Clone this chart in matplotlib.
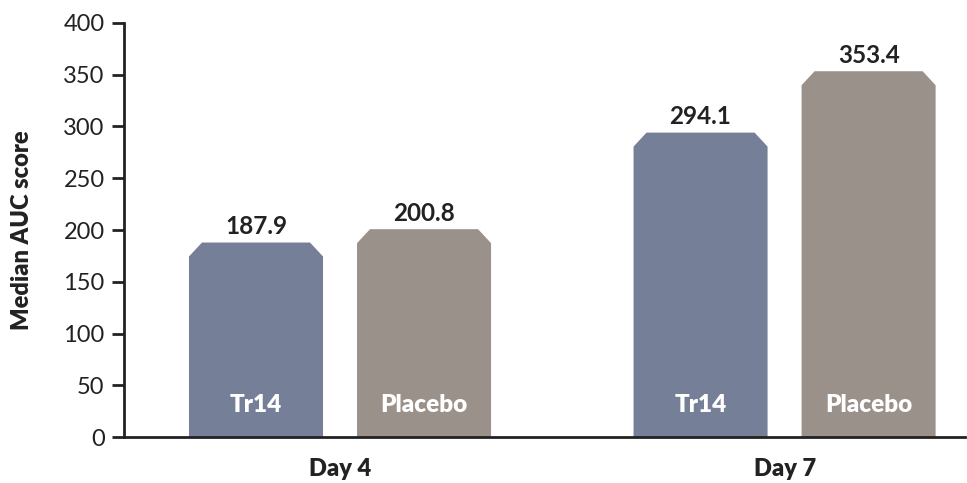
import matplotlib
matplotlib.use("Agg")
import matplotlib.pyplot as plt
from matplotlib.patches import Polygon
import numpy as np

groups = ["Day 4", "Day 7"]
series = ["Tr14", "Placebo"]
tr14 = [187.9, 294.1]
placebo = [200.8, 353.4]
colors = ["#757f98", "#9b918b"]
yticks = [0, 50, 100, 150, 200, 250, 300, 350, 400]

plt.rcParams['font.family'] = ['Lato', 'DejaVu Sans']

fig = plt.figure(figsize=(9.67, 4.83), dpi=100)
ax = fig.add_axes([0.1282, 0.0952, 0.8698, 0.8572])

width = 0.3015
offsets = [-0.189, 0.189]
ax.set_xlim(-0.486, 1.406)
ax.set_ylim(0, 400)

# chamfer size in data units
cx = 13 / 444.5
cy = 14 / 1.035

for si, (name, vals) in enumerate(zip(series, [tr14, placebo])):
    for gi, v in enumerate(vals):
        xc = gi + offsets[si]
        x0, x1 = xc - width / 2, xc + width / 2
        poly = Polygon([(x0, 0), (x0, v - cy), (x0 + cx, v), (x1 - cx, v),
                        (x1, v - cy), (x1, 0)], closed=True,
                       facecolor=colors[si], edgecolor='none')
        ax.add_patch(poly)
        ax.text(xc, v + 4, f"{v:.1f}", ha='center', va='bottom',
                fontsize=17.5, fontweight='bold', color='#222222')
        ax.text(xc, 31, name, ha='center', va='center', fontsize=17.5,
                fontweight='heavy', color='white')

ax.set_xticks([0, 1])
ax.set_xticklabels([])
ax.tick_params(axis='x', length=0)
for gi, g in enumerate(groups):
    ax.text(gi, -31, g, ha='center', va='center', fontsize=17,
            fontweight='heavy', color='#222222')
ax.set_yticks(yticks)
ax.set_yticklabels([str(t) for t in yticks], fontsize=17, color='#222222')
ax.tick_params(axis='y', length=9, width=2, color='#222222', pad=5)
ax.text(-0.486 - 102 / 444.5, 200, "Median AUC score", rotation=90,
        ha='center', va='center', fontsize=17, fontweight='heavy',
        color='#222222')

for s in ['top', 'right']:
    ax.spines[s].set_visible(False)
for s in ['left', 'bottom']:
    ax.spines[s].set_linewidth(2)
    ax.spines[s].set_color('#222222')
ax.spines['bottom'].set_zorder(5)

fig.savefig("out.png", dpi=100)
